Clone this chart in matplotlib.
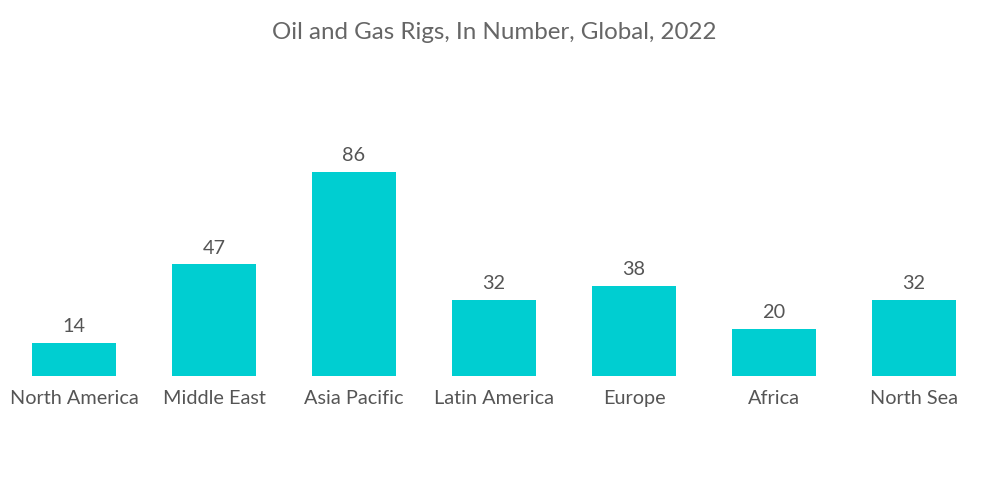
import matplotlib
matplotlib.use("Agg")
import matplotlib.pyplot as plt

plt.rcParams['font.family'] = ['Lato', 'DejaVu Sans']

# Rig counts by region, 2022
regions = ["North America", "Middle East", "Asia Pacific", "Latin America", "Europe", "Africa", "North Sea"]
rigs = [14, 47, 86, 32, 38, 20, 32]

fig = plt.figure(figsize=(10, 5.04), dpi=100)
ax = fig.add_axes([0.004, 0.254, 0.98, 0.5])

bars = ax.bar(range(len(regions)), rigs, width=0.6, color="#00CED1")
ax.set_xlim(-0.5, len(regions) - 0.5)
ax.set_ylim(0, 86 * 252 / 204)

for b, v in zip(bars, rigs):
    ax.text(b.get_x() + b.get_width() / 2, v + 3.2, str(v), ha="center", va="bottom",
            fontsize=14.3, color="#555555")

ax.set_xticks(range(len(regions)))
ax.set_xticklabels(regions, fontsize=14.3, color="#555555")
ax.tick_params(axis="x", length=0, pad=10)
ax.set_yticks([])
for s in ax.spines.values():
    s.set_visible(False)

fig.text(0.494, 0.935, "Oil and Gas Rigs, In Number, Global, 2022", ha="center", va="center",
         fontsize=17.4, color="#666666")

fig.savefig("out.png", dpi=100)
